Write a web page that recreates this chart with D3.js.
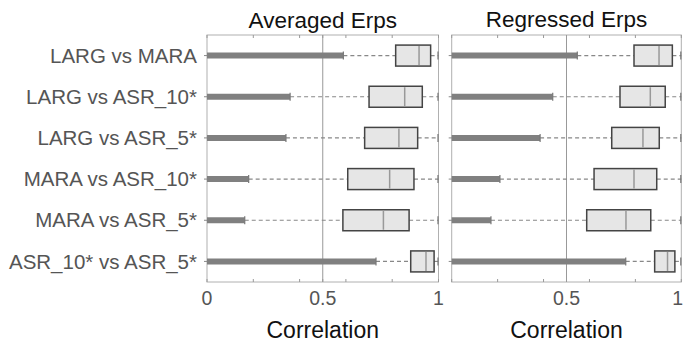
<!DOCTYPE html>
<html><head><meta charset="utf-8">
<script src="https://cdn.jsdelivr.net/npm/d3@7"></script>
<style>body{margin:0;background:#fff}svg{display:block}</style>
</head><body>
<svg id="c" width="683" height="343"></svg>
<script>
const categories = ["LARG vs MARA","LARG vs ASR_10*","LARG vs ASR_5*","MARA vs ASR_10*","MARA vs ASR_5*","ASR_10* vs ASR_5*"];
const panelTitles = ["Averaged Erps","Regressed Erps"];
// thick bar value (ends at lower whisker)
const avgBar = [0.589,0.359,0.341,0.180,0.163,0.730];
const avgQ1  = [0.815,0.700,0.681,0.608,0.587,0.880];
const avgMed = [0.916,0.854,0.829,0.789,0.762,0.946];
const avgQ3  = [0.966,0.930,0.910,0.894,0.873,0.981];
const avgHi  = [1,1,1,1,1,1];
const regBar = [0.547,0.440,0.385,0.210,0.171,0.758];
const regQ1  = [0.794,0.733,0.697,0.620,0.588,0.884];
const regMed = [0.903,0.865,0.833,0.794,0.759,0.940];
const regQ3  = [0.961,0.930,0.904,0.893,0.867,0.972];
const regHi  = [1,1,1,1,1,1];
const xTickLabels = [[0,0.5,1],[0.5,1]];
const minorTicks = [0,0.2,0.4,0.5,0.6,0.8,1];
const xLabel = "Correlation";

const svg = d3.select("#c");
const font = "'Liberation Sans', Arial, sans-serif";
const plotTop = 35, plotBottom = 282;
const y = d3.scaleBand().domain(categories).range([plotTop, plotBottom]).padding(0);

const panels = [
  {x0:207, x1:438.5, title:panelTitles[0], bar:avgBar, q1:avgQ1, med:avgMed, q3:avgQ3, hi:avgHi, labels:xTickLabels[0], titleY:27.5, xlabY:337.5},
  {x0:451.7, x1:681.3, title:panelTitles[1], bar:regBar, q1:regQ1, med:regMed, q3:regQ3, hi:regHi, labels:xTickLabels[1], titleY:27, xlabY:338}
];

panels.forEach((p, pi) => {
  const x = d3.scaleLinear().domain([0,1]).range([p.x0, p.x1]);
  const g = svg.append("g");
  g.append("line").attr("x1", x(0.5)).attr("x2", x(0.5)).attr("y1", plotTop).attr("y2", plotBottom)
    .attr("stroke", "#999").attr("stroke-width", 1);
  g.append("rect").attr("x", x(0)).attr("y", plotTop).attr("width", x(1)-x(0)).attr("height", plotBottom-plotTop)
    .attr("fill", "none").attr("stroke", "#b0b0b0").attr("stroke-width", 1);
  minorTicks.forEach(t => {
    g.append("line").attr("x1", x(t)).attr("x2", x(t)).attr("y1", plotTop).attr("y2", plotTop+3).attr("stroke", "#999");
    g.append("line").attr("x1", x(t)).attr("x2", x(t)).attr("y1", plotBottom).attr("y2", plotBottom-3).attr("stroke", "#999");
  });
  p.labels.forEach(t => {
    const edge = x(t) > 670;
    g.append("text").attr("x", edge ? 683 : x(t)).attr("y", 305)
      .attr("text-anchor", edge ? "end" : "middle")
      .attr("font-family", font).attr("font-size", 19.5).attr("fill", "#555").text(t);
  });
  g.append("text").attr("x", x(0.5)).attr("y", p.titleY).attr("text-anchor", "middle")
    .attr("font-family", font).attr("font-size", 22.5).attr("fill", "#111").text(p.title);
  g.append("text").attr("x", x(0.5)).attr("y", p.xlabY).attr("text-anchor", "middle")
    .attr("font-family", font).attr("font-size", 23).attr("fill", "#111").text(xLabel);

  categories.forEach((c, i) => {
    const cy = y(c) + y.bandwidth()/2;
    const bh = 21;
    g.append("line").attr("x1", x(0)-3).attr("x2", x(0)+2).attr("y1", cy).attr("y2", cy).attr("stroke", "#888");
    g.append("line").attr("x1", x(p.bar[i])).attr("x2", x(p.q1[i])).attr("y1", cy).attr("y2", cy)
      .attr("stroke", "#888").attr("stroke-width", 1.2).attr("stroke-dasharray", "4,3");
    g.append("line").attr("x1", x(p.q3[i])).attr("x2", x(p.hi[i])).attr("y1", cy).attr("y2", cy)
      .attr("stroke", "#888").attr("stroke-width", 1.2).attr("stroke-dasharray", "4,3");
    g.append("line").attr("x1", x(0)).attr("x2", x(p.bar[i])).attr("y1", cy).attr("y2", cy)
      .attr("stroke", "#808080").attr("stroke-width", 6);
    g.append("line").attr("x1", x(p.bar[i])).attr("x2", x(p.bar[i])).attr("y1", cy-4).attr("y2", cy+4)
      .attr("stroke", "#777").attr("stroke-width", 1.2);
    g.append("line").attr("x1", x(p.hi[i])-0.5).attr("x2", x(p.hi[i])-0.5).attr("y1", cy-4).attr("y2", cy+4)
      .attr("stroke", "#777").attr("stroke-width", 1.2);
    g.append("rect").attr("x", x(p.q1[i])).attr("y", cy-bh/2).attr("width", x(p.q3[i])-x(p.q1[i])).attr("height", bh)
      .attr("fill", "#e6e6e6").attr("stroke", "#444").attr("stroke-width", 1.5);
    g.append("line").attr("x1", x(p.med[i])).attr("x2", x(p.med[i])).attr("y1", cy-bh/2+1).attr("y2", cy+bh/2-1)
      .attr("stroke", "#999").attr("stroke-width", 1.5);
    if (pi === 0) {
      g.append("text").attr("x", 197).attr("y", cy).attr("dy", "0.35em").attr("text-anchor", "end")
        .attr("font-family", font).attr("font-size", 20.5).attr("fill", "#555").text(c);
    }
  });
});
</script>
</body></html>
